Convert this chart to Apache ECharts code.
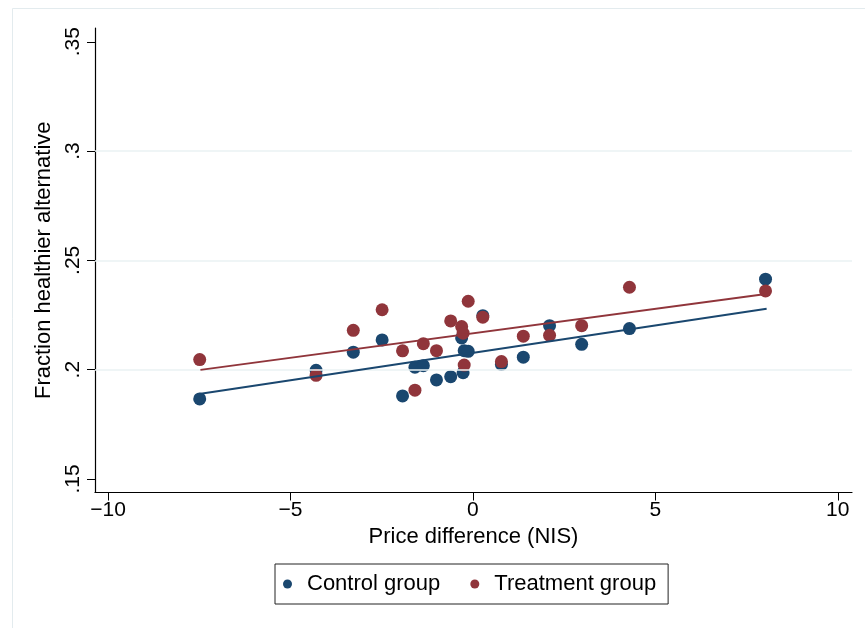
<!DOCTYPE html>
<html>
<head>
<meta charset="utf-8">
<script src="https://cdn.jsdelivr.net/npm/echarts@6/dist/echarts.min.js"></script>
<style>
  html, body { margin: 0; padding: 0; background: #fff; }
  #main { width: 865px; height: 628px; }
</style>
</head>
<body>
<div id="main"></div>
<script>
// price difference bins (NIS), shared by both groups
const priceDiff = [-7.49, -4.30, -3.28, -2.49, -1.93, -1.59, -1.36, -1.00, -0.61, -0.31, -0.27, -0.24, -0.13, 0.27, 0.78, 1.38, 2.10, 2.98, 4.29, 8.02];
const controlVals = [0.1866, 0.1997, 0.2080, 0.2136, 0.1880, 0.2011, 0.2018, 0.1953, 0.1968, 0.2145, 0.1986, 0.2087, 0.2084, 0.2247, 0.2024, 0.2057, 0.2201, 0.2116, 0.2188, 0.2414];
const treatVals = [0.2046, 0.1974, 0.2180, 0.2274, 0.2086, 0.1906, 0.2119, 0.2087, 0.2223, 0.2197, 0.2167, 0.2021, 0.2313, 0.2240, 0.2037, 0.2153, 0.2157, 0.2201, 0.2377, 0.2360];
// fitted line end points
const controlFit = [[-7.51, 0.1889], [8.05, 0.2279]];
const treatFit = [[-7.47, 0.1999], [7.98, 0.2345]];

const xTicks = [-10, -5, 0, 5, 10];
const yTicks = [0.15, 0.2, 0.25, 0.3, 0.35];
const yGrid = [0.2, 0.25, 0.3];

const navy = '#1a476f';
const maroon = '#90353b';
const font = 'Liberation Sans, Arial, Helvetica, sans-serif';

const pts = vals => priceDiff.map((x, i) => [x, vals[i]]);
const fmtY = v => String(+v.toFixed(2)).replace(/^0\./, '.');
const fmtX = v => String(v).replace('-', '\u2212');

const chart = echarts.init(document.getElementById('main'));
chart.setOption({
  animation: false,
  backgroundColor: '#fff',
  textStyle: { fontFamily: font },
  graphic: [{
    type: 'rect', left: 10, top: 6, z: -10,
    shape: { width: 870, height: 640 },
    style: { fill: 'none', stroke: '#e3ebee', lineWidth: 1 }
  }],
  grid: { left: 95, top: 28, width: 757, height: 464.5 },
  xAxis: {
    type: 'value', min: -10.36, max: 10.39,
    name: 'Price difference (NIS)', nameLocation: 'middle', nameGap: 33,
    nameTextStyle: { fontSize: 22, color: '#000', fontFamily: font },
    axisLine: { onZero: false, lineStyle: { color: '#000', width: 1.2 } },
    axisTick: { customValues: xTicks, length: 8, lineStyle: { color: '#000' } },
    axisLabel: { customValues: xTicks, formatter: fmtX, fontSize: 21, color: '#000', margin: 7, fontFamily: font },
    splitLine: { show: false }
  },
  yAxis: {
    type: 'value', min: 0.1438, max: 0.3563,
    name: 'Fraction healthier alternative', nameLocation: 'middle', nameGap: 40, nameRotate: 90,
    nameTextStyle: { fontSize: 22, color: '#000', fontFamily: font },
    axisLine: { onZero: false, lineStyle: { color: '#000', width: 1.2 } },
    axisTick: { customValues: yTicks, length: 8, lineStyle: { color: '#000' } },
    axisLabel: { customValues: yTicks, formatter: fmtY, rotate: 90, fontSize: 21, color: '#000', margin: 11, fontFamily: font },
    splitLine: { show: false }
  },
  legend: {
    left: 275, top: 564,
    data: ['Control group', 'Treatment group'],
    icon: 'circle', itemWidth: 9, itemHeight: 9, itemGap: 30,
    padding: [9, 12, 9, 8],
    borderColor: '#222', borderWidth: 1,
    itemStyle: { opacity: 1 },
    textStyle: { fontSize: 22, color: '#000', lineHeight: 22, padding: [0, 0, 0, 10], fontFamily: font }
  },
  series: [
    {
      name: 'grid', type: 'line', data: [], silent: true,
      markLine: {
        silent: true, symbol: 'none', label: { show: false },
        lineStyle: { color: '#eaf2f3', width: 1.5, type: 'solid' },
        data: yGrid.map(v => ({ yAxis: v }))
      }
    },
    {
      name: 'Control group', type: 'scatter', data: pts(controlVals),
      symbolSize: 13, itemStyle: { color: navy, opacity: 1 }, z: 3
    },
    {
      name: 'Treatment group', type: 'scatter', data: pts(treatVals),
      symbolSize: 13, itemStyle: { color: maroon, opacity: 1 }, z: 4
    },
    {
      name: 'controlFit', type: 'line', data: controlFit, symbol: 'none',
      lineStyle: { color: navy, width: 2 }, z: 5
    },
    {
      name: 'treatFit', type: 'line', data: treatFit, symbol: 'none',
      lineStyle: { color: maroon, width: 2 }, z: 5
    }
  ]
});
</script>
</body>
</html>
